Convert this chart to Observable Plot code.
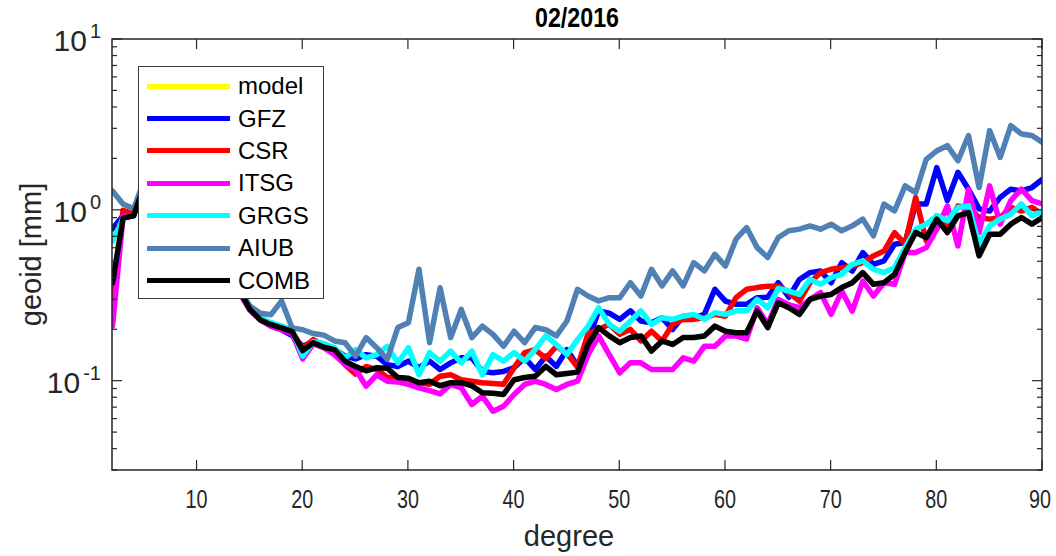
<!DOCTYPE html>
<html><head><meta charset="utf-8">
<script src="https://cdn.jsdelivr.net/npm/d3@7"></script>
<script src="https://cdn.jsdelivr.net/npm/@observablehq/plot@0.6"></script>
<style>
body{margin:0;background:#fff;font-family:"Liberation Sans",Arial,sans-serif;}
#wrap{position:relative;width:1056px;height:556px;overflow:hidden;}
#legend{position:absolute;left:138px;top:66px;width:186px;height:233px;background:#fff;border:1.2px solid #3a3a3a;box-sizing:border-box;padding-top:3px;}
.row{height:32.4px;display:flex;align-items:center;}
.sw{width:83px;height:5px;margin-left:8px;margin-right:8px;}
.lb{font-size:24px;color:#000;line-height:24px;}
</style></head>
<body><div id="wrap"></div>
<script>
const title = "02/2016";
const xLabel = "degree";
const yLabel = "geoid [mm]";
const seriesNames = ["model","GFZ","CSR","ITSG","GRGS","AIUB","COMB"];
const seriesColors = ["#ffff00","#0000ff","#ff0000","#ff00ff","#00ffff","#4f81b5","#000000"];
const degrees = [2,3,4,5,6,7,8,9,10,11,12,13,14,15,16,17,18,19,20,21,22,23,24,25,26,27,28,29,30,31,32,33,34,35,36,37,38,39,40,41,42,43,44,45,46,47,48,49,50,51,52,53,54,55,56,57,58,59,60,61,62,63,64,65,66,67,68,69,70,71,72,73,74,75,76,77,78,79,80,81,82,83,84,85,86,87,88,89,90];
const model = [];
const GFZ = [0.78,0.93,0.95,1.40,1.25,1.10,0.95,0.84,0.72,0.62,
 0.52,0.42,0.34,0.265,0.23,0.21,0.20,0.185,0.16,0.17,
 0.165,0.155,0.14,0.135,0.143,0.14,0.125,0.122,0.131,0.12,
 0.131,0.117,0.128,0.137,0.137,0.114,0.112,0.114,0.12,0.137,
 0.117,0.14,0.122,0.153,0.123,0.172,0.258,0.25,0.23,0.258,
 0.225,0.22,0.235,0.201,0.24,0.235,0.246,0.345,0.294,0.282,
 0.282,0.308,0.31,0.377,0.31,0.394,0.432,0.441,0.377,0.494,
 0.441,0.566,0.483,0.506,0.633,0.648,1.09,1.09,1.78,1.14,
 1.67,1.33,1.02,0.99,1.19,1.33,1.30,1.36,1.52];
const CSR = [0.275,1.00,0.95,1.40,1.25,1.10,0.95,0.84,0.72,0.62,
 0.52,0.42,0.34,0.265,0.235,0.215,0.205,0.195,0.155,0.175,
 0.16,0.15,0.125,0.11,0.122,0.117,0.105,0.105,0.10,0.098,
 0.096,0.107,0.109,0.102,0.10,0.098,0.097,0.096,0.12,0.147,
 0.153,0.136,0.16,0.145,0.121,0.19,0.201,0.215,0.188,0.201,
 0.172,0.196,0.172,0.215,0.23,0.23,0.235,0.246,0.24,0.308,
 0.345,0.353,0.36,0.36,0.33,0.294,0.377,0.432,0.452,0.462,
 0.472,0.494,0.541,0.578,0.741,0.634,1.19,0.663,0.929,0.811,
 1.06,1.04,0.908,0.888,0.908,1.04,0.99,1.04,0.949];
const ITSG = [0.21,0.92,0.93,1.38,1.24,1.09,0.94,0.83,0.71,0.61,
 0.51,0.41,0.33,0.26,0.228,0.21,0.20,0.19,0.135,0.165,
 0.157,0.143,0.125,0.117,0.0935,0.109,0.10,0.099,0.0957,0.0914,
 0.088,0.0843,0.0957,0.0914,0.073,0.0817,0.0667,0.0713,0.0836,0.0957,
 0.10,0.0957,0.0894,0.0957,0.10,0.143,0.184,0.143,0.112,0.128,
 0.128,0.117,0.117,0.117,0.137,0.131,0.16,0.16,0.184,0.184,
 0.176,0.269,0.215,0.301,0.28,0.269,0.301,0.33,0.246,0.337,
 0.257,0.386,0.315,0.377,0.369,0.566,0.566,0.605,0.776,1.06,
 0.619,1.33,0.741,1.39,0.83,1.14,1.33,1.14,1.09];
const GRGS = [0.66,0.90,0.93,1.40,1.25,1.10,0.95,0.84,0.72,0.62,
 0.52,0.42,0.34,0.27,0.235,0.22,0.21,0.20,0.14,0.17,
 0.165,0.157,0.137,0.153,0.137,0.143,0.16,0.128,0.157,0.109,
 0.147,0.131,0.15,0.128,0.15,0.109,0.143,0.131,0.147,0.131,
 0.153,0.184,0.164,0.143,0.175,0.21,0.269,0.215,0.196,0.225,
 0.258,0.215,0.235,0.23,0.24,0.246,0.23,0.252,0.246,0.258,
 0.258,0.301,0.269,0.349,0.337,0.322,0.394,0.369,0.404,0.422,
 0.483,0.506,0.452,0.432,0.462,0.605,0.776,0.83,0.929,0.868,
 1.04,1.06,0.634,0.811,0.888,0.949,1.09,0.929,0.993];
const AIUB = [1.30,1.09,1.02,1.50,1.30,1.15,1.00,0.88,0.75,0.64,
 0.54,0.44,0.35,0.275,0.25,0.245,0.295,0.205,0.20,0.19,
 0.186,0.172,0.168,0.14,0.18,0.157,0.134,0.206,0.22,0.452,
 0.168,0.352,0.18,0.263,0.18,0.21,0.188,0.16,0.196,0.168,
 0.206,0.20,0.184,0.225,0.345,0.315,0.295,0.308,0.308,0.377,
 0.315,0.452,0.361,0.442,0.361,0.494,0.442,0.553,0.472,0.678,
 0.793,0.605,0.53,0.693,0.759,0.776,0.811,0.776,0.83,0.759,
 0.811,0.888,0.709,1.087,0.993,1.39,1.27,1.99,2.23,2.39,
 1.95,2.74,1.36,2.93,2.04,3.13,2.80,2.74,2.50];
const COMB = [0.376,0.90,0.93,1.40,1.25,1.10,0.95,0.84,0.72,0.62,
 0.52,0.42,0.34,0.263,0.228,0.214,0.205,0.195,0.151,0.168,
 0.158,0.153,0.131,0.122,0.115,0.12,0.119,0.105,0.104,0.098,
 0.10,0.094,0.098,0.098,0.094,0.0855,0.085,0.0836,0.102,0.105,
 0.107,0.122,0.109,0.111,0.113,0.164,0.206,0.184,0.168,0.18,
 0.184,0.15,0.172,0.164,0.18,0.18,0.184,0.21,0.196,0.192,
 0.192,0.258,0.206,0.288,0.269,0.246,0.301,0.315,0.322,0.353,
 0.377,0.432,0.369,0.377,0.422,0.566,0.741,0.693,0.888,0.741,
 0.929,0.971,0.541,0.725,0.725,0.83,0.908,0.83,0.908];
const xTicks = [10,20,30,40,50,60,70,80,90];
const yMajorTicks = [0.1,1,10];
const yTickExponents = ["-1","0","1"];
const yMinorTicks = [0.03,0.04,0.05,0.06,0.07,0.08,0.09,0.2,0.3,0.4,0.5,0.6,0.7,0.8,0.9,2,3,4,5,6,7,8,9];
const xDomain = [2,90];
const yDomain = [0.03,10];

const seriesValues = {model, GFZ, CSR, ITSG, GRGS, AIUB, COMB};
const rows = [];
seriesNames.forEach(s => seriesValues[s].forEach((v,i) => rows.push({series:s, degree:degrees[i], value:v})));

const W=1056,H=556;
const plot = Plot.plot({
  width:W, height:H, marginLeft:112, marginRight:14, marginTop:39, marginBottom:86,
  style:{fontFamily:"'Liberation Sans', Arial, sans-serif", background:"#fff", overflow:"visible"},
  x:{domain:xDomain, axis:null},
  y:{type:"log", domain:yDomain, axis:null},
  color:{domain:seriesNames, range:seriesColors},
  marks:[
    ...seriesNames.map(s => Plot.line(rows.filter(r => r.series===s), {x:"degree", y:"value", stroke:"series", strokeWidth:5.5, strokeLinejoin:"round", clip:true}))
  ]
});
document.getElementById("wrap").appendChild(plot);

const svg = d3.select(plot);
const sx = plot.scale("x"), sy = plot.scale("y");
const xl = sx.apply(xDomain[0]), xr = sx.apply(xDomain[1]);
const yt = sy.apply(yDomain[1]), yb = sy.apply(yDomain[0]);
const ac = "#262626";
const g = svg.append("g").attr("stroke", ac).attr("fill","none").attr("stroke-width",1.2);
g.append("rect").attr("x",xl).attr("y",yt).attr("width",xr-xl).attr("height",yb-yt).attr("stroke-width",1.5);
xTicks.forEach(t => {
  const X = sx.apply(t);
  g.append("line").attr("x1",X).attr("x2",X).attr("y1",yb).attr("y2",yb-10);
  g.append("line").attr("x1",X).attr("x2",X).attr("y1",yt).attr("y2",yt+10);
  const lx = Math.min(X, W - 16);
  svg.append("text").attr("x",lx).attr("y",yb+38).attr("text-anchor","middle")
    .attr("font-size",25).attr("fill",ac)
    .attr("textLength",22).attr("lengthAdjust","spacingAndGlyphs").text(String(t));
});
yMajorTicks.forEach(t => {
  const Y = sy.apply(t);
  g.append("line").attr("x1",xl).attr("x2",xl+10).attr("y1",Y).attr("y2",Y);
  g.append("line").attr("x1",xr).attr("x2",xr-10).attr("y1",Y).attr("y2",Y);
});
yMinorTicks.forEach(t => {
  const Y = sy.apply(t);
  g.append("line").attr("x1",xl).attr("x2",xl+5).attr("y1",Y).attr("y2",Y);
  g.append("line").attr("x1",xr).attr("x2",xr-5).attr("y1",Y).attr("y2",Y);
});
yMajorTicks.forEach((t,i) => {
  const Y = sy.apply(t);
  const tx = svg.append("text").attr("x",101).attr("y",Y+12).attr("text-anchor","end")
    .attr("font-size",30).attr("fill",ac);
  tx.append("tspan").text("10");
  tx.append("tspan").attr("dx",3).attr("dy",-13).attr("font-size",20).text(yTickExponents[i]);
});
svg.append("text").attr("x",(xl+xr)/2).attr("y",27).attr("text-anchor","middle")
  .attr("font-size",27).attr("font-weight","bold").attr("fill","#000")
  .attr("textLength",84).attr("lengthAdjust","spacingAndGlyphs").text(title);
svg.append("text").attr("x",569).attr("y",546).attr("text-anchor","middle")
  .attr("font-size",29).attr("fill",ac).text(xLabel);
svg.append("text").attr("transform",`translate(41,${(yt+yb)/2}) rotate(-90)`).attr("text-anchor","middle")
  .attr("font-size",29).attr("fill",ac).text(yLabel);

// legend
const lg = document.createElement("div");
lg.id = "legend";
seriesNames.forEach((s,i) => {
  const r = document.createElement("div"); r.className = "row";
  const sw = document.createElement("div"); sw.className = "sw"; sw.style.background = seriesColors[i];
  const lb = document.createElement("div"); lb.className = "lb"; lb.textContent = s;
  r.appendChild(sw); r.appendChild(lb); lg.appendChild(r);
});
document.getElementById("wrap").appendChild(lg);
</script></body></html>
